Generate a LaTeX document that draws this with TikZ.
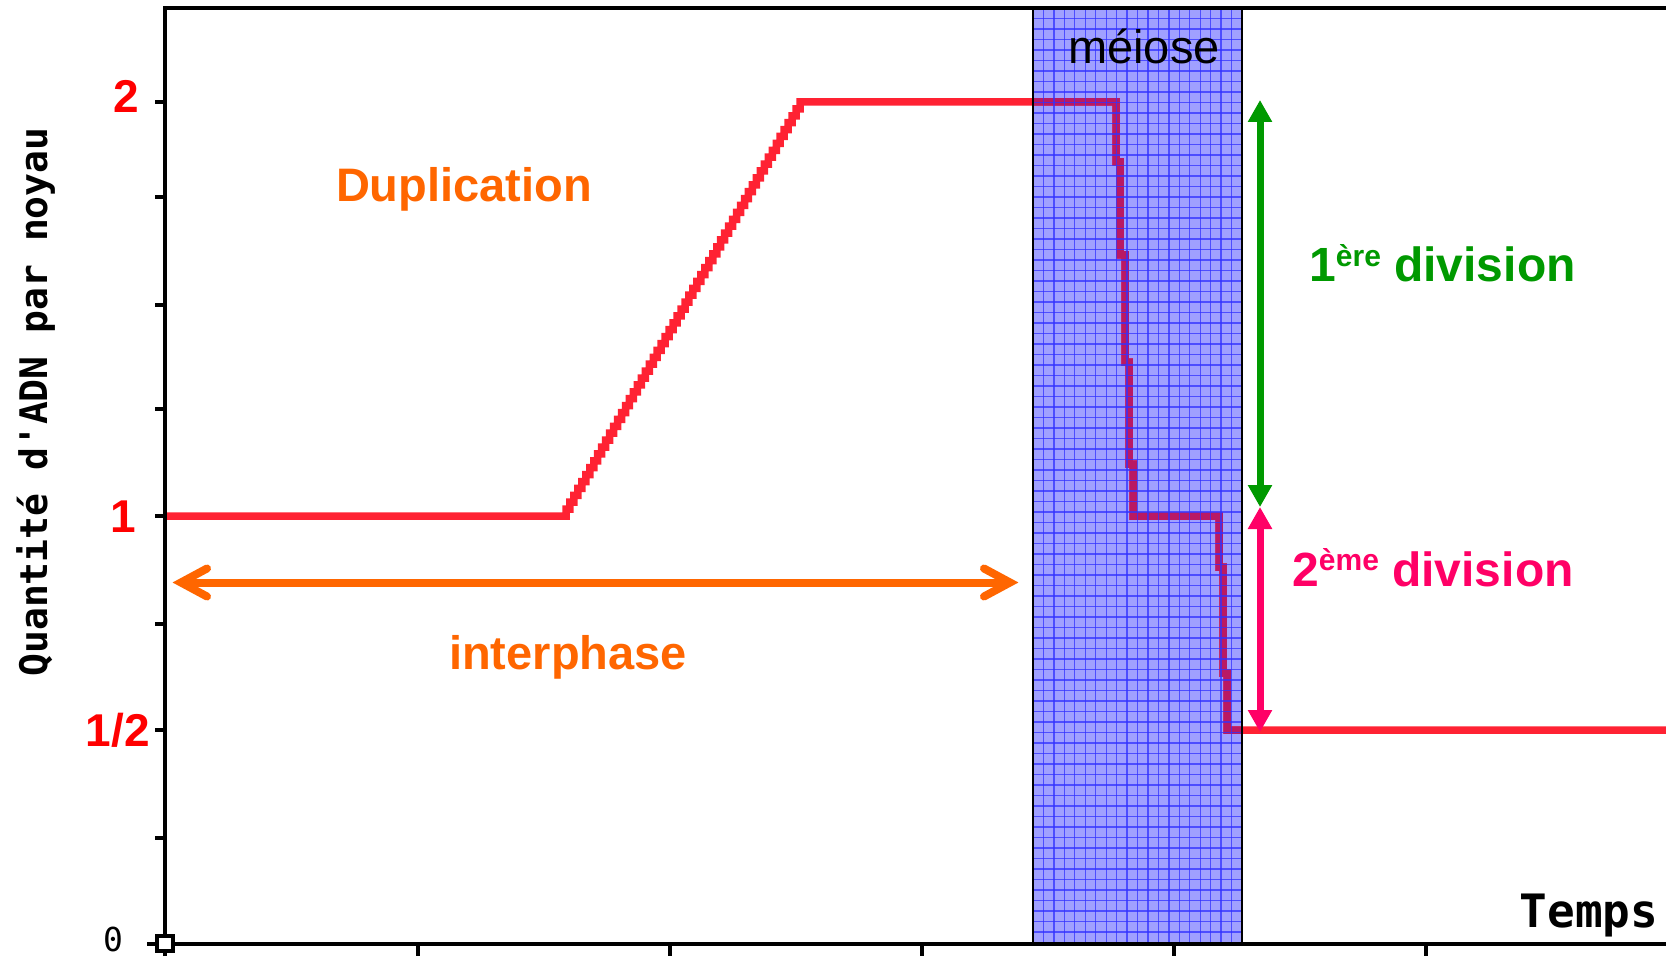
\documentclass[tikz,border=0pt]{standalone}
\usepackage{fontspec}
\setmainfont{Liberation Sans}
\newfontfamily\pixfont{DejaVu Sans Mono}
\usetikzlibrary{arrows.meta,calc}
\definecolor{curvered}{RGB}{255,34,51}
\definecolor{curveinside}{RGB}{185,25,100}
\definecolor{lblred}{RGB}{255,0,0}
\definecolor{orng}{RGB}{255,102,0}
\definecolor{grn}{RGB}{0,153,0}
\definecolor{pnk}{RGB}{255,0,102}
\definecolor{meibg}{RGB}{160,160,255}
\definecolor{meigrid}{RGB}{50,50,255}
\tikzset{
  axisline/.style={line width=4.5pt, black},
  tickline/.style={line width=3.5pt, black},
  curve/.style={line width=7.5pt, line join=miter},
  biglabel/.style={font=\fontsize{47}{56}\selectfont\bfseries, inner sep=0pt, anchor=base},
  levellabel/.style={font=\fontsize{46}{55}\selectfont\bfseries, text=lblred, inner sep=0pt, anchor=east},
  orangearrow/.style={line width=8pt, orng},
  divarrow/.style={line width=7pt, {Triangle[length=22pt,width=23pt]}-{Triangle[length=22pt,width=23pt]}},
}
\begin{document}
\begin{tikzpicture}[x=1pt,y=-1pt]
\useasboundingbox (0,0) rectangle (1666,960);
\fill[white] (0,0) rectangle (1666,960);

% meiose background
\coordinate (mNW) at (1033,8);
\coordinate (mSE) at (1242,944);
\fill[meibg] (mNW) rectangle (mSE);

% DNA curve
\def\curvepath{(165,516) -- (566,516) \foreach \k in {1,...,60} { -- ++(0,-6.9) -- ++(3.967,0) } -- (1116,102) -- (1116,162) -- (1120,162) -- (1120,255) -- (1125,255) -- (1125,362) -- (1129,362) -- (1129,464) -- (1133,464) -- (1133,516) -- (1219,516) -- (1219,567) -- (1223,567) -- (1223,673) -- (1227,673) -- (1227,730) -- (1666,730)}
\draw[curve, curvered] \curvepath;
\begin{scope}
  \clip (mNW) rectangle (mSE);
  \draw[curve, curveinside] \curvepath;
  \foreach \i in {1,...,19} {
    \draw[meigrid, line width=1.3pt, opacity=0.75] (1033+\i*10.45,8) -- (1033+\i*10.45,944);
  }
  \foreach \j in {1,...,89} {
    \draw[meigrid, line width=1.3pt, opacity=0.75] (1033,8+\j*10.5) -- (1242,8+\j*10.5);
  }
\end{scope}
\draw[black, line width=1.5pt] (mNW) rectangle (mSE);

% axes
\draw[axisline] (165,956) -- (165,8) -- (1666,8);
\draw[axisline] (147,944) -- (1666,944);
\foreach \yy in {102,197,305,409,516,624,730,838} {
  \draw[tickline] (155,\yy) -- (165,\yy);
}
\foreach \xx in {418,670,922,1174,1426} {
  \draw[tickline] (\xx,944) -- (\xx,956);
}
\draw[black, line width=3.5pt, fill=white] (157,936) rectangle (173,951);

% level labels
\node[levellabel] (l2) at (139,96) {2};
\node[levellabel] (l1) at (136,517) {1};
\node[levellabel] (lhalf) at (150,730) {1/2};
\node[font=\pixfont\fontsize{33}{36}\selectfont, inner sep=0pt] (l0) at (113,939) {0};

% axis titles
\node[font=\pixfont\bfseries\fontsize{38}{40}\selectfont, inner sep=0pt, rotate=90, anchor=base] (ylab) at (47,402) {Quantité d'ADN par noyau};
\node[font=\pixfont\bfseries\fontsize{46}{48}\selectfont, inner sep=0pt, anchor=base] (temps) at (1589,927) {Temps};

% texts
\node[biglabel, text=orng] (dup) at (464,202) {Duplication};
\node[biglabel, text=orng] (inter) at (568,669) {interphase};
\node[font=\fontsize{47}{56}\selectfont, inner sep=0pt, anchor=base] (mei) at (1144,64) {méiose};

% interphase arrow
\coordinate (oL) at (181,582.5);
\coordinate (oR) at (1010,582.5);
\draw[orangearrow] ($(oL)+(5,0)$) -- ($(oR)+(-5,0)$);
\draw[orangearrow, line cap=round, line join=miter] ($(oL)+(26,-14)$) -- (oL) -- ($(oL)+(26,14)$);
\draw[orangearrow, line cap=round, line join=miter] ($(oR)+(-26,-14)$) -- (oR) -- ($(oR)+(-26,14)$);

% division arrows
\coordinate (gTop) at (1260,100);
\coordinate (gBot) at (1260,507);
\coordinate (pTop) at (1260,507);
\coordinate (pBot) at (1260,732);
\draw[divarrow, grn] (gTop) -- (gBot);
\draw[divarrow, pnk] (pTop) -- (pBot);

\node[font=\fontsize{48}{56}\selectfont\bfseries, inner sep=0pt, anchor=base west, text=grn] (div1) at (1309,282) {1\raisebox{15pt}{\fontsize{30}{31}\selectfont ère} division};
\node[font=\fontsize{48}{56}\selectfont\bfseries, inner sep=0pt, anchor=base west, text=pnk] (div2) at (1292,586) {2\raisebox{16pt}{\fontsize{30}{31}\selectfont ème} division};
\end{tikzpicture}
\end{document}
